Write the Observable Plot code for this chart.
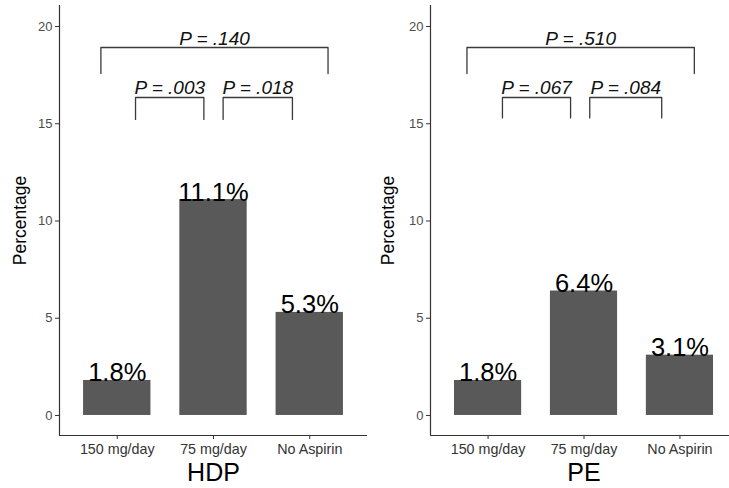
<!DOCTYPE html>
<html>
<head>
<meta charset="utf-8">
<script src="https://cdn.jsdelivr.net/npm/d3@7"></script>
<script src="https://cdn.jsdelivr.net/npm/@observablehq/plot@0.6"></script>
<style>
  html, body { margin: 0; padding: 0; background: #fff; }
  #wrap { position: relative; width: 729px; height: 488px; overflow: hidden; }
  #wrap > div, #wrap > svg { position: absolute; top: 0; }
</style>
</head>
<body>
<div id="wrap"></div>
<script>
// ---- data ----
const categories = ["150 mg/day", "75 mg/day", "No Aspirin"];
const hdpValues = [1.8, 11.1, 5.3];
const peValues = [1.8, 6.4, 3.1];
const yTicks = [0, 5, 10, 15, 20];
const panelTitles = ["HDP", "PE"];
// significance brackets (x in category index units, 1-based; y in percentage units)
const hdpBrackets = [
  {xmin: 0.83, xmax: 3.19, y: 18.92, tip: 17.58, label: "P = .140"},
  {xmin: 1.19, xmax: 1.90, y: 16.35, tip: 15.22, label: "P = .003"},
  {xmin: 2.10, xmax: 2.82, y: 16.35, tip: 15.22, label: "P = .018"}
];
const peBrackets = [
  {xmin: 0.78, xmax: 3.15, y: 18.92, tip: 17.58, label: "P = .510"},
  {xmin: 1.15, xmax: 1.86, y: 16.35, tip: 15.30, label: "P = .067"},
  {xmin: 2.06, xmax: 2.81, y: 16.35, tip: 15.30, label: "P = .084"}
];

const FONT = "'Liberation Sans', Arial, Helvetica, sans-serif";
const X_DOMAIN = [0.4, 3.6];
const Y_DOMAIN = [-1.03, 21.08];

function panel(values, brackets, title, opts) {
  const bars = categories.map((c, i) => ({cat: c, pos: i + 1, value: values[i]}));
  const segs = [];
  brackets.forEach((b, k) => {
    segs.push({k, x: b.xmin, y: b.tip});
    segs.push({k, x: b.xmin, y: b.y});
    segs.push({k, x: b.xmax, y: b.y});
    segs.push({k, x: b.xmax, y: b.tip});
  });
  return Plot.plot({
    width: opts.width,
    height: 488,
    marginLeft: opts.marginLeft,
    marginRight: opts.marginRight,
    marginTop: 5,
    marginBottom: 53,
    style: {fontFamily: FONT, background: "transparent", overflow: "visible"},
    x: {type: "linear", domain: X_DOMAIN, axis: null},
    y: {type: "linear", domain: Y_DOMAIN, axis: null},
    marks: [
      Plot.rectY(bars, {x1: d => d.pos - 0.35, x2: d => d.pos + 0.35, y: "value", fill: "#595959"}),
      Plot.text(bars, {x: "pos", y: "value", text: d => d.value.toFixed(1) + "%", lineAnchor: "bottom", dy: 1, fontSize: 25.5, fill: "#000"}),
      Plot.line(segs, {x: "x", y: "y", z: "k", stroke: "#3a3a3a", strokeWidth: 1.3}),
      Plot.text(brackets, {x: d => (d.xmin + d.xmax) / 2, y: "y", text: "label", lineAnchor: "bottom", dy: -3, fontSize: 19, fontStyle: "italic", fill: "#111"}),
      // axis lines
      Plot.ruleX([X_DOMAIN[0]], {stroke: "#333", strokeWidth: 1.2}),
      Plot.ruleY([Y_DOMAIN[0]], {stroke: "#333", strokeWidth: 1.2}),
      Plot.axisY(yTicks, {tickSize: 4, tickPadding: 3, fontSize: 13, color: "#4d4d4d", stroke: "#333", label: null}),
      Plot.axisX(bars.map(d => d.pos), {tickSize: 4, tickPadding: 4, tickFormat: d => categories[d - 1], fontSize: 14.3, color: "#333", stroke: "#333", label: null, anchor: "bottom"}),
      Plot.text([title], {frameAnchor: "bottom", dy: 45, fontSize: 25, fill: "#000"}),
      Plot.text(["Percentage"], {frameAnchor: "left", textAnchor: "middle", dx: -opts.marginLeft + 20, rotate: -90, fontSize: 17.5, fill: "#000"})
    ]
  });
}

const wrap = document.getElementById("wrap");
const left = panel(hdpValues, hdpBrackets, panelTitles[0], {width: 368, marginLeft: 59, marginRight: 1});
left.style.left = "0px";
wrap.appendChild(left);
const right = panel(peValues, peBrackets, panelTitles[1], {width: 369, marginLeft: 62, marginRight: 0});
right.style.left = "368px";
wrap.appendChild(right);
</script>
</body>
</html>
